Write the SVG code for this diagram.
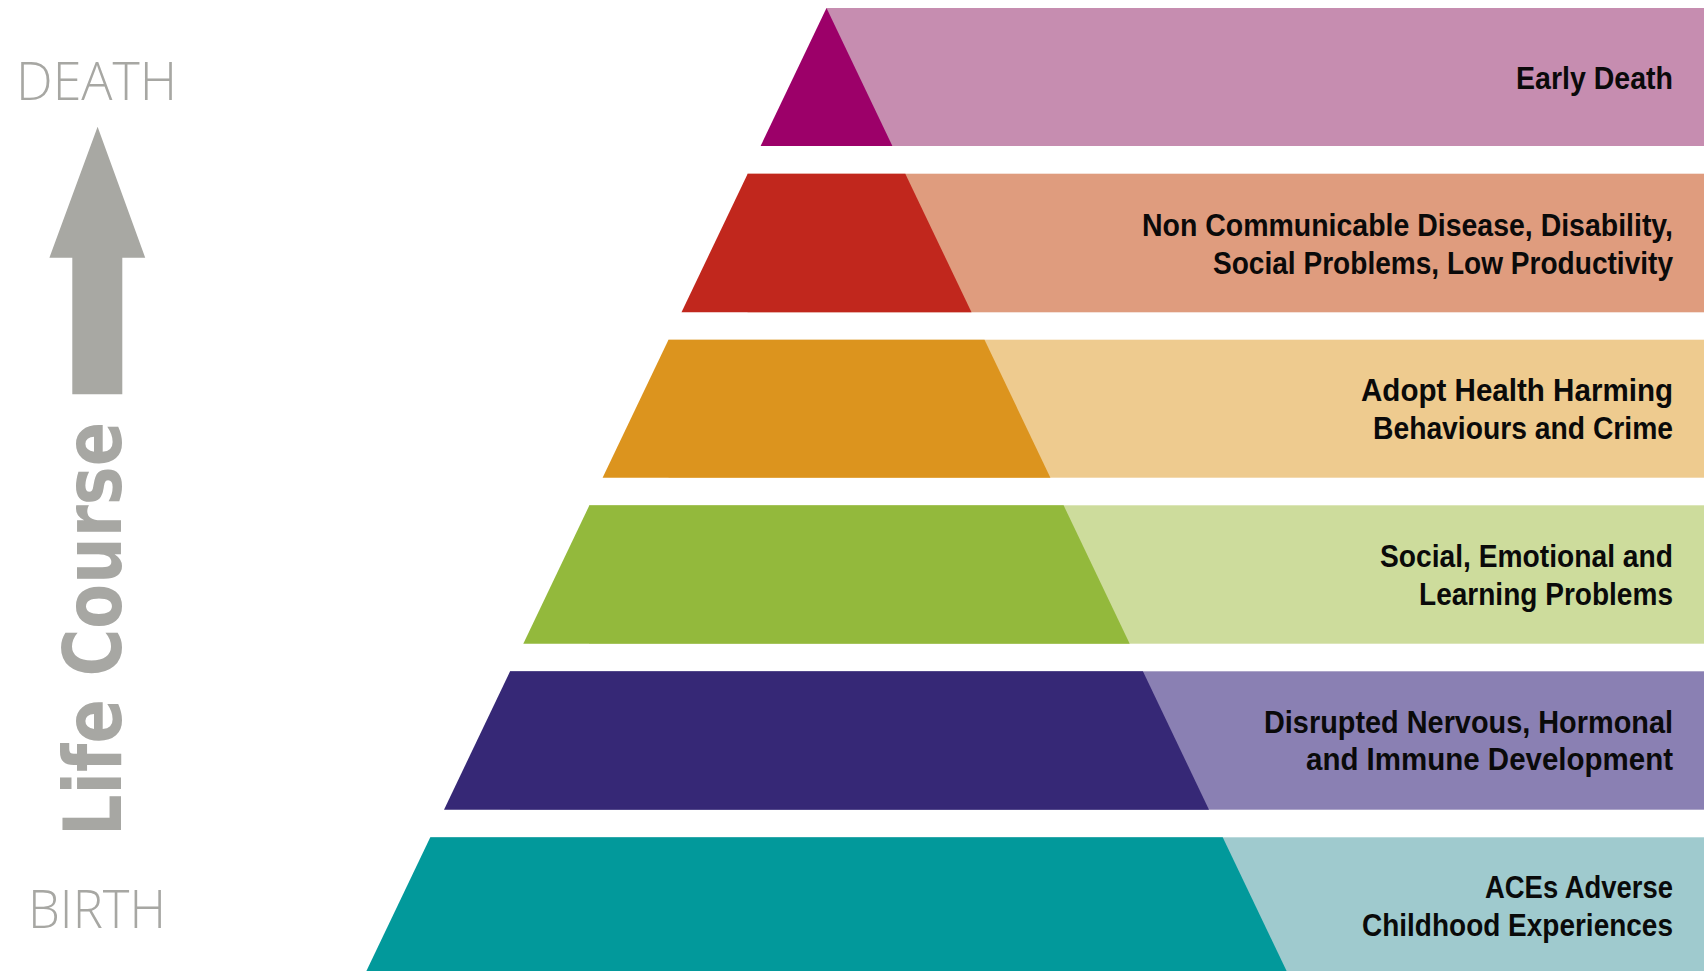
<svg xmlns="http://www.w3.org/2000/svg" width="1704" height="971" viewBox="0 0 1704 971">
<style>
.lbl{font-family:"Liberation Sans",Arial,sans-serif;font-weight:bold;font-size:31px;fill:#0a0a0a;text-anchor:end}
.axis{font-family:"Open Sans","Liberation Sans",sans-serif;font-weight:300;font-size:54px;fill:#a7a7a3}
.lc{font-family:"DejaVu Sans",Verdana,sans-serif;font-weight:bold;font-size:80px;fill:#a7a7a3}
</style>
<rect width="1704" height="971" fill="#ffffff"/>
<g id="band-early-death">
<rect x="826.5" y="8" width="877.5" height="138" fill="#c68db0"/>
<polygon points="826.5,8 892.4,146 760.6,146" fill="#9c0069"/>
<text class="lbl" x="1673" y="89" textLength="157" lengthAdjust="spacingAndGlyphs">Early Death</text>
</g>
<g id="band-ncd">
<rect x="747.5" y="173.7" width="956.5" height="138.6" fill="#df9c7e"/>
<polygon points="747.7,173.7 905.3,173.7 971.5,312.3 681.5,312.3" fill="#c1271d"/>
<text class="lbl" x="1673" y="236" textLength="531" lengthAdjust="spacingAndGlyphs">Non Communicable Disease, Disability,</text>
<text class="lbl" x="1673" y="273.5" textLength="460" lengthAdjust="spacingAndGlyphs">Social Problems, Low Productivity</text>
</g>
<g id="band-behaviours">
<rect x="668.5" y="339.7" width="1035.5" height="138" fill="#eecb8f"/>
<polygon points="668.5,339.7 984.5,339.7 1050.4,477.7 602.6,477.7" fill="#dc941e"/>
<text class="lbl" x="1673" y="401" textLength="312" lengthAdjust="spacingAndGlyphs">Adopt Health Harming</text>
<text class="lbl" x="1673" y="438.7" textLength="300" lengthAdjust="spacingAndGlyphs">Behaviours and Crime</text>
</g>
<g id="band-social">
<rect x="589" y="505.3" width="1115" height="138.4" fill="#cddc9c"/>
<polygon points="589.4,505.3 1063.6,505.3 1129.7,643.7 523.3,643.7" fill="#93b93c"/>
<text class="lbl" x="1673" y="567.3" textLength="293" lengthAdjust="spacingAndGlyphs">Social, Emotional and</text>
<text class="lbl" x="1673" y="605" textLength="254" lengthAdjust="spacingAndGlyphs">Learning Problems</text>
</g>
<g id="band-disrupted">
<rect x="510" y="671.3" width="1194" height="138.4" fill="#8a80b3"/>
<polygon points="510.1,671.3 1142.9,671.3 1209,809.7 444,809.7" fill="#362876"/>
<text class="lbl" x="1673" y="732.7" textLength="409" lengthAdjust="spacingAndGlyphs">Disrupted Nervous, Hormonal</text>
<text class="lbl" x="1673" y="770.2" textLength="367" lengthAdjust="spacingAndGlyphs">and Immune Development</text>
</g>
<g id="band-aces">
<rect x="430.5" y="837.3" width="1273.5" height="133.7" fill="#9fcace"/>
<polygon points="430.3,837.3 1222.7,837.3 1286.6,971 366.4,971" fill="#02999b"/>
<text class="lbl" x="1673" y="898.3" textLength="188" lengthAdjust="spacingAndGlyphs">ACEs Adverse</text>
<text class="lbl" x="1673" y="935.8" textLength="311" lengthAdjust="spacingAndGlyphs">Childhood Experiences</text>
</g>
<g id="axis-labels">
<text class="axis" x="16" y="99.5" textLength="161" lengthAdjust="spacingAndGlyphs">DEATH</text>
<text class="axis" x="28" y="927.8" textLength="138" lengthAdjust="spacingAndGlyphs">BIRTH</text>
<text class="lc" transform="translate(120.5,836) rotate(-90)" x="0" y="0" textLength="414" lengthAdjust="spacingAndGlyphs">Life Course</text>
</g>
<g id="connectors">
<polygon id="life-course-arrow" points="97.6,126.7 145.2,257.7 122.3,257.7 122.3,394.3 72.3,394.3 72.3,257.7 49.4,257.7" fill="#a8a8a3"/>
</g>
</svg>
